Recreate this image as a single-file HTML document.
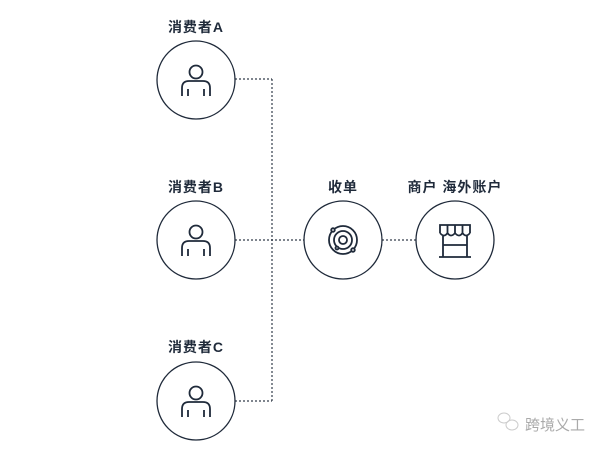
<!DOCTYPE html>
<html><head><meta charset="utf-8"><style>
html,body{margin:0;padding:0;background:#fff;}
svg{display:block;}
text{font-family:"Liberation Sans","Noto Sans CJK SC",sans-serif;font-weight:bold;fill:#1f2a3a;font-size:14px;letter-spacing:1px;}
</style></head><body>
<svg width="604" height="453" viewBox="0 0 604 453" xmlns="http://www.w3.org/2000/svg">
<g stroke="#333c4a" stroke-width="1.2" stroke-dasharray="2,2" fill="none">
<line x1="272" y1="79" x2="272" y2="401"/>
<line x1="235" y1="79" x2="272" y2="79"/>
<line x1="235" y1="240" x2="304" y2="240"/>
<line x1="235" y1="401" x2="272" y2="401"/>
<line x1="382" y1="240" x2="416" y2="240"/>
</g>
<g stroke="#1f2a3a" stroke-width="1.3" fill="#fff">
<circle cx="196" cy="80" r="39"/>
<circle cx="196" cy="240" r="39"/>
<circle cx="196" cy="401" r="39"/>
<circle cx="343" cy="240" r="39"/>
<circle cx="455" cy="240" r="39"/>
</g>
<g stroke="#1f2a3a" stroke-width="1.8" fill="none">
<g id="p"><circle cx="196" cy="72" r="6.5"/><path d="M182 96 V88 Q182 81 189 81 H203 Q210 81 210 88 V96 M188 89 V96 M204 89 V96"/></g>
<use href="#p" y="160"/><use href="#p" y="321"/>
<circle cx="343" cy="240" r="14"/><circle cx="343" cy="240" r="9"/><circle cx="343" cy="240" r="4"/>
<circle cx="333" cy="230" r="1.8" fill="#fff"/><circle cx="353" cy="250" r="1.8" fill="#fff"/><circle cx="337" cy="248" r="1.5" fill="#fff"/>
<path d="M440 233 V225 H470 V233 M440 233 Q444 238 447.5 233 Q451 238 455 233 Q459 238 462.5 233 Q466 238 470 233 M447.5 225 V233 M455 225 V233 M462.5 225 V233 M443 236 V257 M467 236 V257 M439 257 H471 M443 245 H467"/>
</g>
<text x="196" y="32" text-anchor="middle">消费者A</text>
<text x="196" y="192" text-anchor="middle">消费者B</text>
<text x="196" y="352" text-anchor="middle">消费者C</text>
<text x="343" y="192" text-anchor="middle">收单</text>
<text x="455" y="192" text-anchor="middle" letter-spacing="1.5">商户 海外账户</text>
<g stroke="#ccc" fill="none" stroke-width="1"><ellipse cx="504" cy="418" rx="6" ry="5"/><ellipse cx="512" cy="425" rx="6" ry="5"/></g>
<text x="525" y="430" style="font-size:15px;font-weight:normal;fill:#aaa;letter-spacing:0">跨境义工</text>
</svg>
</body></html>
